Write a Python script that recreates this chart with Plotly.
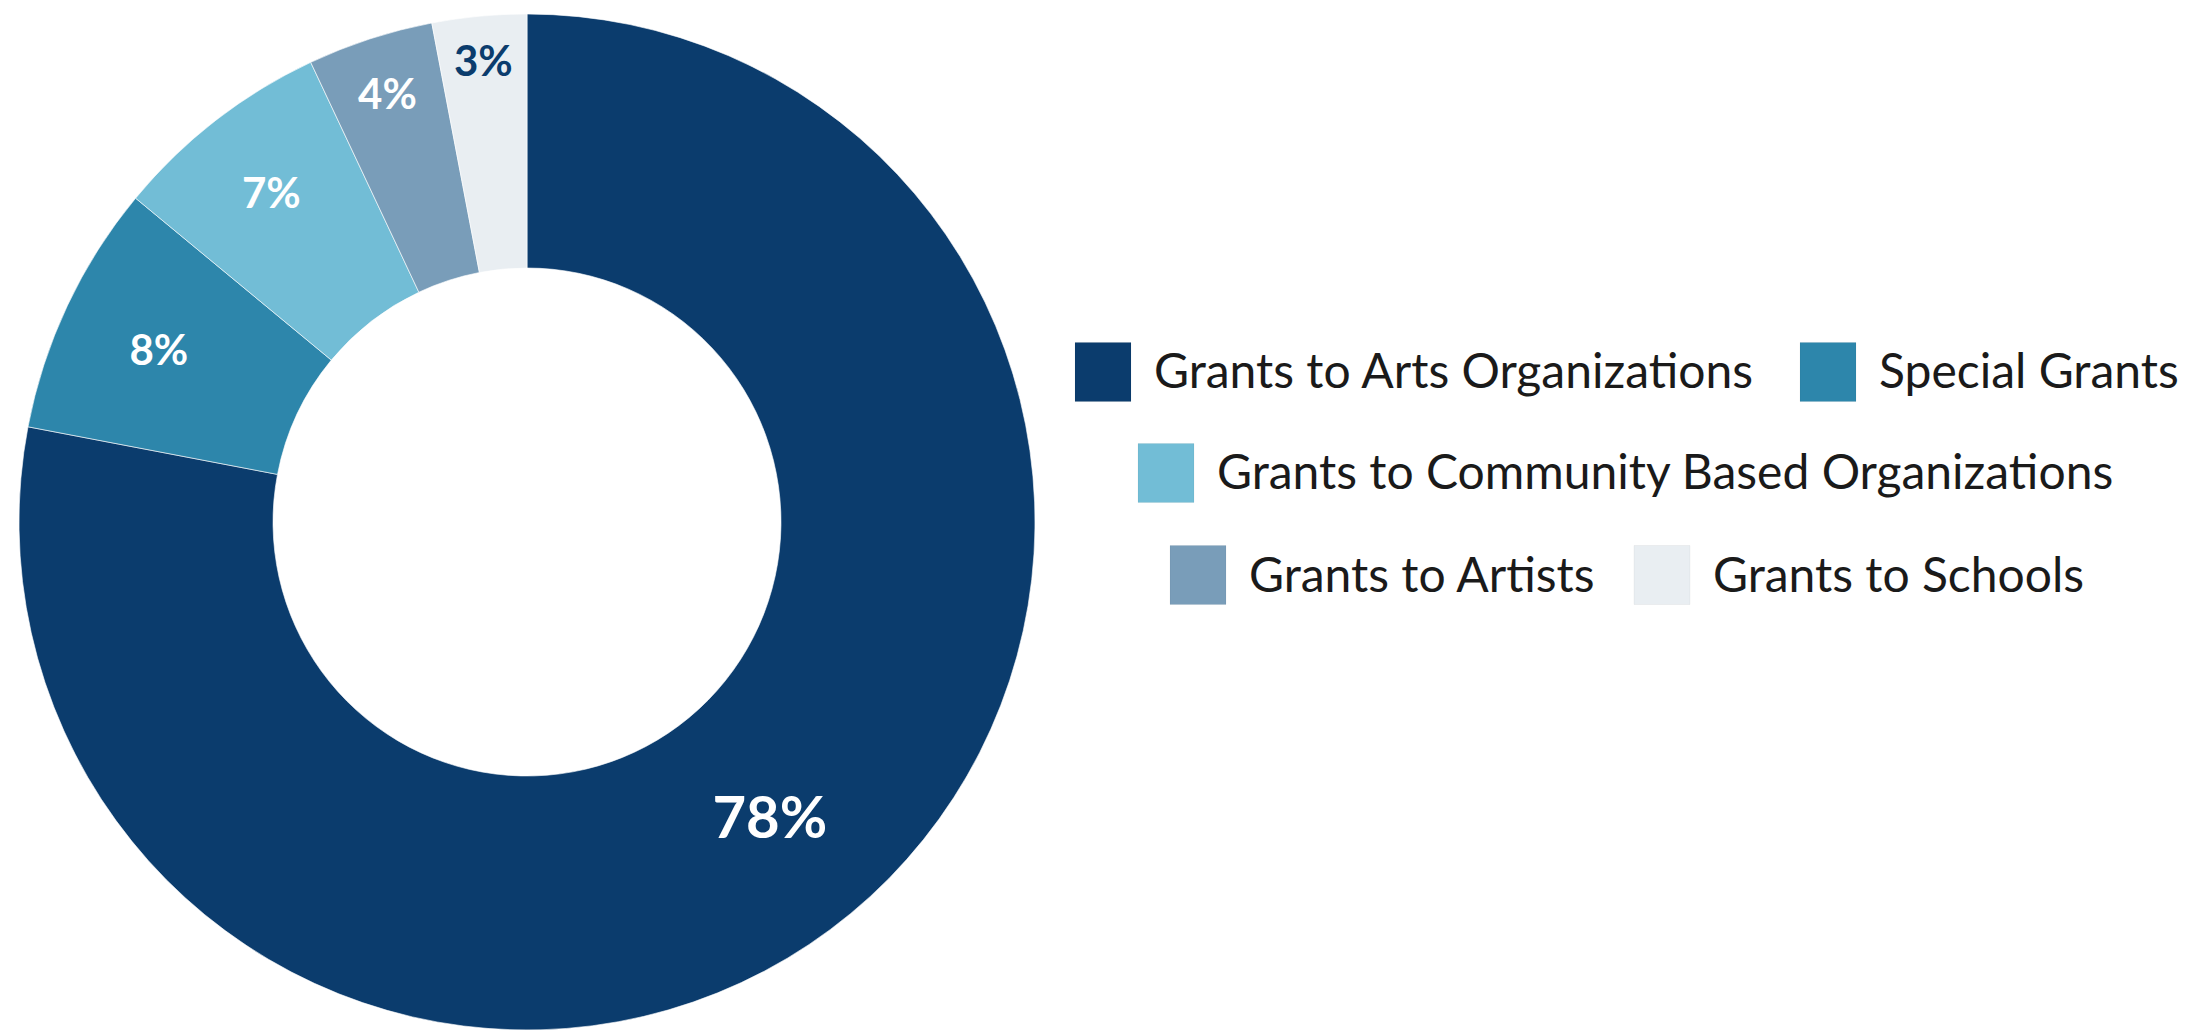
import plotly.graph_objects as go

# ---- data ----
categories = [
    "Grants to Arts Organizations",
    "Special Grants",
    "Grants to Community Based Organizations",
    "Grants to Artists",
    "Grants to Schools",
]
shares = [78, 8, 7, 4, 3]
colors = ["#0B3C6D", "#2D86AB", "#72BDD6", "#799DB9", "#E9EEF2"]
label_colors = ["#FFFFFF", "#FFFFFF", "#FFFFFF", "#FFFFFF", "#0B3C6D"]
label_sizes = [58, 42, 42, 42, 42]

# ---- layout constants (pixels) ----
W, H = 2194, 1032
PIE_CX, PIE_CY, PIE_R = 527, 522, 508
FONT = "Lato"

# legend layout: rows of (category index, swatch left x), row centre y
legend_rows = [
    ([(0, 1075), (1, 1800)], 370),
    ([(2, 1138)], 471),
    ([(3, 1170), (4, 1634)], 573),
]
SW_W, SW_H, TEXT_GAP = 56, 59, 77

fig = go.Figure()
fig.add_trace(go.Pie(
    labels=categories,
    values=shares,
    sort=False,
    direction="clockwise",
    rotation=0,
    hole=0.5,
    marker=dict(colors=colors, line=dict(color="rgba(255,255,255,0.6)", width=1)),
    texttemplate="%{value}%",
    textposition="inside",
    insidetextorientation="horizontal",
    textfont=dict(family=FONT, size=label_sizes, color=label_colors, weight=700),
    hoverinfo="label+percent",
    showlegend=False,
    domain=dict(
        x=[(PIE_CX - PIE_R) / W, (PIE_CX + PIE_R) / W],
        y=[1 - (PIE_CY + PIE_R) / H, 1 - (PIE_CY - PIE_R) / H],
    ),
))

shapes = []
annotations = []
for row, cy in legend_rows:
    for idx, left in row:
        shapes.append(dict(
            type="rect", xref="paper", yref="paper",
            x0=left / W, x1=(left + SW_W) / W,
            y0=1 - (cy + 2 + SW_H / 2) / H, y1=1 - (cy + 2 - SW_H / 2) / H,
            fillcolor=colors[idx], line=dict(width=0.5, color="rgba(0,0,0,0.08)"),
        ))
        annotations.append(dict(
            xref="paper", yref="paper",
            x=(left + TEXT_GAP) / W, y=1 - cy / H,
            xanchor="left", yanchor="middle",
            text=categories[idx], showarrow=False,
            font=dict(family=FONT, size=48, color="#1A1A1A"),
        ))

fig.update_layout(
    width=W, height=H,
    margin=dict(l=0, r=0, t=0, b=0),
    paper_bgcolor="white",
    plot_bgcolor="white",
    shapes=shapes,
    annotations=annotations,
)

fig.write_html(
    "out.html",
    config={"displayModeBar": False},
    post_script="document.body.style.margin='0';",
)
